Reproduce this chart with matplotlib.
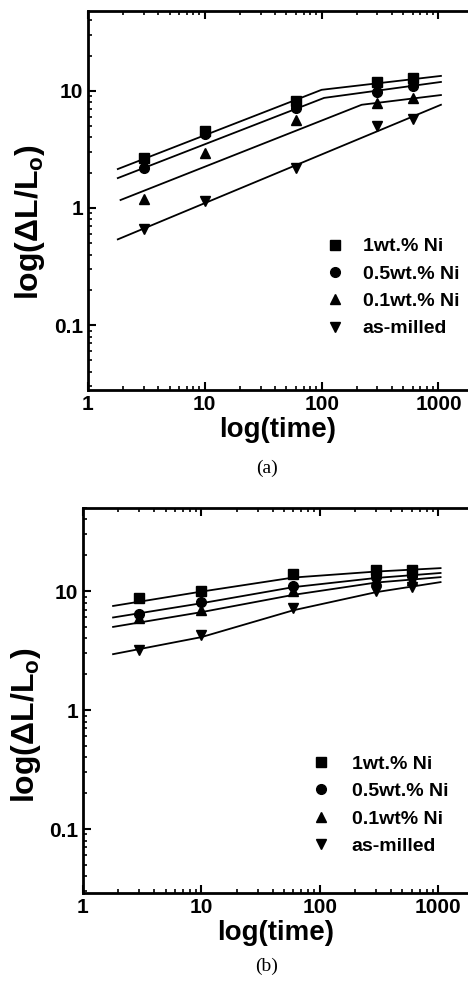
import matplotlib
matplotlib.use("Agg")
from matplotlib import pyplot as plt

plt.rcParams["font.family"] = ["Liberation Sans", "DejaVu Sans"]
plt.rcParams["font.weight"] = "bold"

time = [3, 10, 60, 300, 600]
labels_a = ["1wt.% Ni", "0.5wt.% Ni", "0.1wt.% Ni", "as-milled"]
labels_b = ["1wt.% Ni", "0.5wt.% Ni", "0.1wt% Ni", "as-milled"]
markers = ["s", "o", "^", "v"]

# panel (a) measured points
a_points = [
    [2.65, 4.55, 8.2, 11.9, 12.9],
    [2.2, 4.3, 7.2, 9.8, 11.0],
    [1.2, 2.95, 5.65, 7.8, 8.6],
    [0.66, 1.15, 2.2, 5.0, 5.8],
]
# panel (a) fitted lines (breakpoints)
a_fit_t = [[1.8, 100, 1050], [1.8, 105, 1050], [1.9, 220, 1050], [1.8, 1050]]
a_fit_y = [[2.15, 10.2, 13.4], [1.8, 8.7, 11.9], [1.17, 7.6, 9.2], [0.54, 7.6]]

# panel (b) measured points
b_points = [
    [8.7, 10.1, 13.9, 15.0, 15.0],
    [6.4, 8.1, 11.0, 13.1, 13.4],
    [5.9, 6.9, 10.0, 12.3, 12.3],
    [3.2, 4.27, 7.2, 10.0, 10.8],
]
b_fit_t = [[1.8, 10, 60, 300, 1050]] * 4
b_fit_y = [
    [7.5, 9.9, 13.0, 14.6, 15.6],
    [6.0, 7.9, 10.8, 12.9, 14.2],
    [5.0, 6.65, 9.3, 11.8, 13.1],
    [2.95, 4.1, 6.9, 9.8, 11.9],
]


def draw_panel(fig, rect, ylim, points, fit_t, fit_y, labels, legend_anchor, text_pad,
               ylabel_xy, caption, cap_y):
    ax = fig.add_axes(rect)
    for t, y in zip(fit_t, fit_y):
        ax.plot(t, y, color="black", lw=1.3)
    for pts, m, lab in zip(points, markers, labels):
        ax.plot(time, pts, ls="none", marker=m, ms=7, color="black", label=lab)
    ax.set_xscale("log")
    ax.set_yscale("log")
    ax.set_xlim(1, 1790)
    ax.set_ylim(*ylim)
    ax.set_xticks([1, 10, 100, 1000], ["1", "10", "100", "1000"])
    ax.set_yticks([0.1, 1, 10], ["0.1", "1", "10"])
    ax.tick_params(which="both", direction="in", top=True, right=False, labelsize=15)
    ax.tick_params(which="major", length=6, width=1.5)
    ax.tick_params(which="minor", length=3, width=1.2)
    for s in ax.spines.values():
        s.set_linewidth(2)
    ax.spines["right"].set_visible(False)
    ax.set_xlabel("log(time)", fontsize=20, fontweight="bold", labelpad=2)
    ax.set_ylabel("log(ΔL/L$_\\mathregular{o}$)", fontsize=23, fontweight="bold")
    ax.yaxis.set_label_coords(*ylabel_xy)
    ax.legend(
        loc="upper left",
        bbox_to_anchor=legend_anchor,
        frameon=False,
        fontsize=14,
        handlelength=0.8,
        handletextpad=text_pad,
        labelspacing=0.5,
        borderpad=0,
    )
    fig.text(0.57, cap_y, caption, fontsize=14, family="Liberation Serif",
             fontweight="normal", ha="center", va="center")
    return ax


fig = plt.figure(figsize=(4.68, 9.89), dpi=100)
draw_panel(fig, [0.188, 0.6057, 0.812, 0.3832], (0.028, 48), a_points, a_fit_t, a_fit_y,
           labels_a, (0.605, 0.427), 1.0, (-0.108, 0.443), "(a)", 1 - 468 / 989)
draw_panel(fig, [0.177, 0.0971, 0.823, 0.3893], (0.029, 50), b_points, b_fit_t, b_fit_y,
           labels_b, (0.572, 0.383), 1.2, (-0.104, 0.436), "(b)", 1 - 966 / 989)
fig.savefig("out.png", dpi=100)
